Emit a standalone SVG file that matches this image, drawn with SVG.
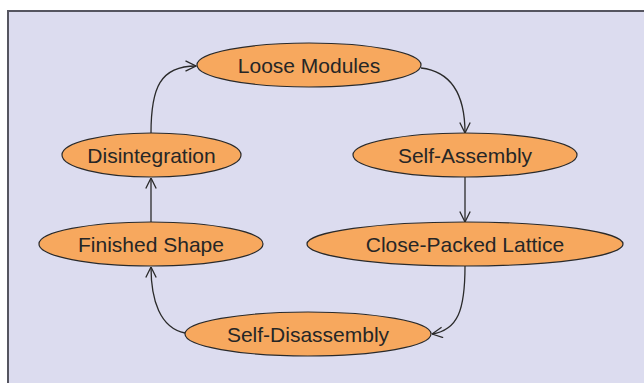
<svg xmlns="http://www.w3.org/2000/svg" width="644" height="383" viewBox="0 0 644 383">
<style>
.node ellipse{fill:#f7a85e;stroke:#2a2a2a;stroke-width:1.2}
.node text{font-family:"Liberation Sans",Arial,sans-serif;font-size:21px;fill:#262626;text-anchor:middle}
.edge{fill:none;stroke:#2a2a2a;stroke-width:1.3;marker-end:url(#arr)}
</style>
<defs>
<marker id="arr" viewBox="0 0 12 12" refX="11.5" refY="6" markerWidth="12" markerHeight="12" markerUnits="userSpaceOnUse" orient="auto">
<polyline points="1,0.8 11.5,6 1,11.2" fill="none" stroke="#2a2a2a" stroke-width="1.3"/>
</marker>
</defs>
<rect x="0" y="0" width="644" height="383" fill="#ffffff"/>
<rect x="8" y="11" width="640" height="380" fill="#dcdcef" stroke="#555560" stroke-width="2"/>
<g id="connectors">
<path class="edge" d="M151,133 C151,88 160,66 196,66"/>
<path class="edge" d="M421,68 C455,72 465,100 465,133"/>
<path class="edge" d="M465,177 L465,222"/>
<path class="edge" d="M465,266 C465,310 458,330 432,334"/>
<path class="edge" d="M185,333 C160,328 151,300 151,267"/>
<path class="edge" d="M151,222 L151,178"/>
</g>
<g id="loose-modules" class="node"><ellipse cx="309" cy="65" rx="112" ry="22"/><text x="309" y="72.5">Loose Modules</text></g>
<g id="disintegration" class="node"><ellipse cx="151.5" cy="155" rx="89.5" ry="22"/><text x="151.5" y="162.5">Disintegration</text></g>
<g id="self-assembly" class="node"><ellipse cx="465" cy="155" rx="112" ry="22"/><text x="465" y="162.5">Self-Assembly</text></g>
<g id="finished-shape" class="node"><ellipse cx="151" cy="244" rx="112" ry="22"/><text x="151" y="251.5">Finished Shape</text></g>
<g id="close-packed-lattice" class="node"><ellipse cx="465" cy="244" rx="158" ry="22"/><text x="465" y="251.5">Close-Packed Lattice</text></g>
<g id="self-disassembly" class="node"><ellipse cx="308" cy="334" rx="123" ry="22"/><text x="308" y="341.5">Self-Disassembly</text></g>
</svg>
